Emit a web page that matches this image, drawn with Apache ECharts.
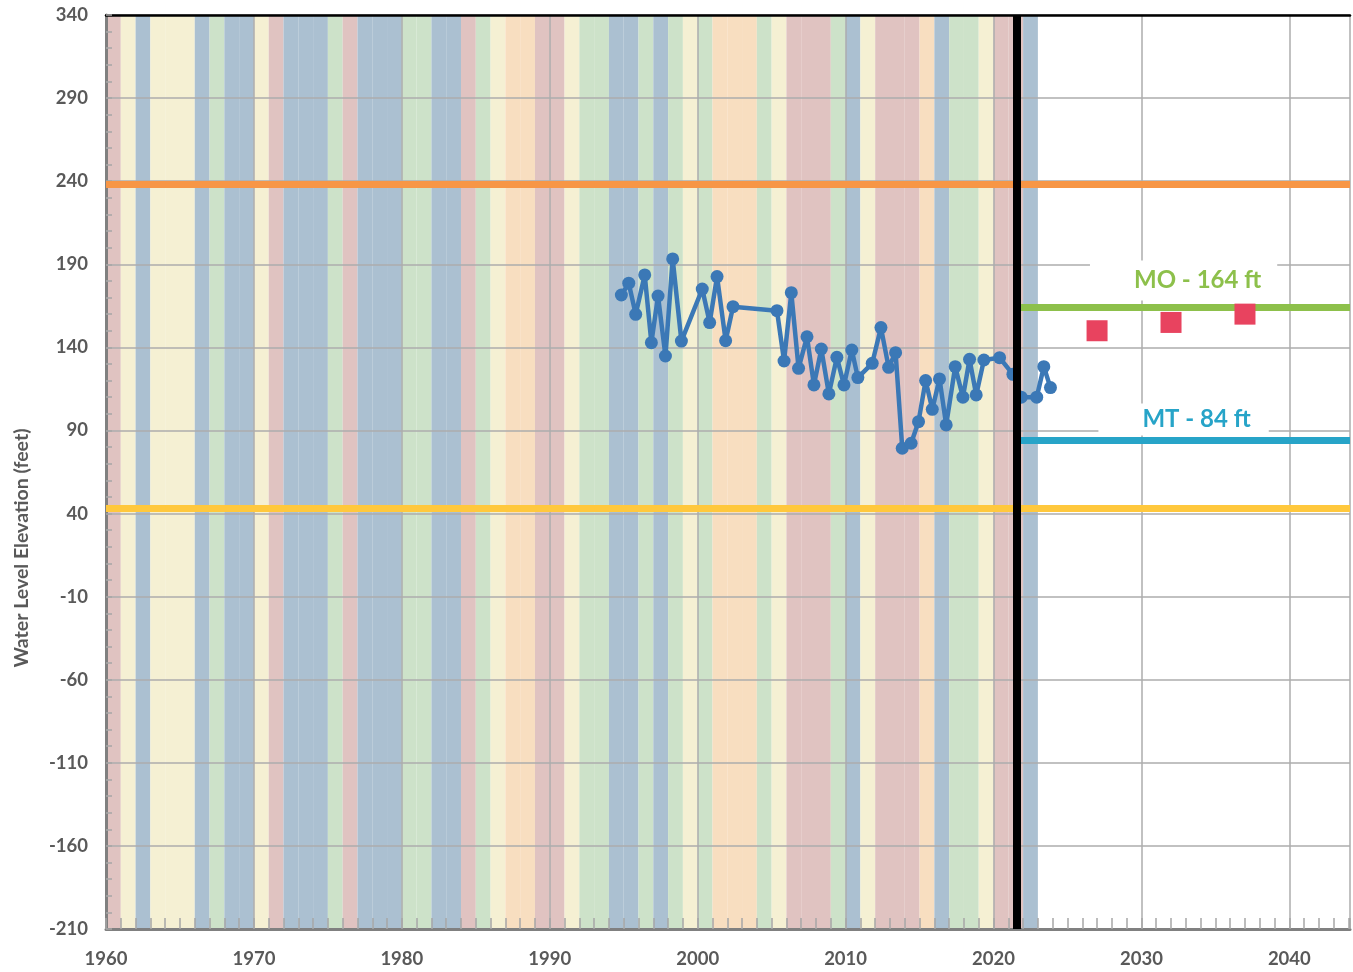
<!DOCTYPE html>
<html>
<head>
<meta charset="utf-8">
<title>Water Level Elevation</title>
<script src="https://cdn.jsdelivr.net/npm/echarts@6/dist/echarts.min.js"></script>
<style>
  html, body { margin: 0; padding: 0; background: #ffffff; overflow: hidden; }
  #chart { width: 1353px; height: 972px; }
</style>
</head>
<body>
<div id="chart"></div>
<script>
// Water-year classification (year ending) used for the background bands
const waterYears = [
  1961, 1962, 1963, 1964, 1965, 1966, 1967, 1968, 1969, 1970,
  1971, 1972, 1973, 1974, 1975, 1976, 1977, 1978, 1979, 1980,
  1981, 1982, 1983, 1984, 1985, 1986, 1987, 1988, 1989, 1990,
  1991, 1992, 1993, 1994, 1995, 1996, 1997, 1998, 1999, 2000,
  2001, 2002, 2003, 2004, 2005, 2006, 2007, 2008, 2009, 2010,
  2011, 2012, 2013, 2014, 2015, 2016, 2017, 2018, 2019, 2020,
  2021, 2022, 2023
];
const yearTypes = [
  'C',  'BN', 'W',  'BN', 'BN', 'BN', 'W',  'AN', 'W',  'W',
  'BN', 'C',  'W',  'W',  'W',  'AN', 'C',  'W',  'W',  'W',
  'AN', 'AN', 'W',  'W',  'C',  'AN', 'BN', 'D',  'D',  'C',
  'C',  'BN', 'AN', 'AN', 'W',  'W',  'AN', 'W',  'AN', 'BN',
  'AN', 'D',  'D',  'D',  'AN', 'BN', 'C',  'C',  'C',  'AN',
  'W',  'BN', 'C',  'C',  'C',  'D',  'W',  'AN', 'AN', 'BN',
  'C',  'C',  'W'
];

// Measured groundwater levels (decimal year, feet)
const measDates = [
  1994.84, 1995.34, 1995.81, 1996.42, 1996.87, 1997.32, 1997.82, 1998.31, 1998.90,
  2000.31, 2000.81, 2001.31, 2001.89, 2002.39,
  2005.36, 2005.84, 2006.33, 2006.82, 2007.39, 2007.86, 2008.36, 2008.87, 2009.41,
  2009.89, 2010.42, 2010.83, 2011.80, 2012.39, 2012.91, 2013.38, 2013.83, 2014.43,
  2014.93, 2015.41, 2015.86, 2016.35, 2016.80, 2017.41, 2017.93, 2018.38, 2018.83,
  2019.35, 2020.41, 2021.31, 2021.87, 2022.92, 2023.40, 2023.85
];
const measLevels = [
  171.5, 178.6, 159.9, 183.6, 142.8, 170.9, 134.8, 193.2, 143.8,
  175.1, 154.9, 182.6, 144.0, 164.5,
  162.1, 131.8, 172.9, 127.4, 146.4, 117.4, 139.0, 112.0, 134.0,
  117.4, 138.4, 121.8, 130.4, 151.9, 128.0, 136.8, 79.3, 82.3,
  95.3, 120.0, 102.7, 121.0, 93.3, 128.4, 110.0, 132.8, 111.4,
  132.4, 133.8, 123.8, 110.0, 110.0, 128.4, 115.8
];

// Interim milestones
const milestoneYears = [2027, 2032, 2037];
const milestoneLevels = [150, 155, 160];

// Reference levels (feet)
const upperRefLevel = 238;
const lowerRefLevel = 43;
const moLevel = 164;
const mtLevel = 84;
const divideYear = 2021.6;

// Axis tick labels
const xTickLabels = [1960, 1970, 1980, 1990, 2000, 2010, 2020, 2030, 2040];
const yTickLabels = [-210, -160, -110, -60, -10, 40, 90, 140, 190, 240, 290, 340];
const xAxisEnd = 2044.1;

// ---------------------------------------------------------------------------
const X_MIN = xTickLabels[0];
const X_STEP = xTickLabels[1] - xTickLabels[0];
const Y_MIN = yTickLabels[0];
const Y_MAX = yTickLabels[yTickLabels.length - 1];
const Y_STEP = yTickLabels[1] - yTickLabels[0];
// the y scale is shifted so that ticks start at zero on the axis
const toAxis = v => v - Y_MIN;

const FONT = 'Lato, "Open Sans", "Noto Sans", sans-serif';
const TXT = '#595959';
const GRID_GRAY = '#ADADAD';
const TICK_GRAY = '#A6A6A6';

const typeColors = {
  W: '#ABC0D1',
  AN: '#CDE2C9',
  BN: '#F5F0D3',
  D: '#F8DEC0',
  C: '#E0C3C1'
};

const bandAreas = waterYears.map((y, i) => [
  { xAxis: y - 1, itemStyle: { color: typeColors[yearTypes[i]], opacity: 1 } },
  { xAxis: y }
]);

const chart = echarts.init(document.getElementById('chart'), null, { renderer: 'canvas' });

const option = {
  animation: false,
  backgroundColor: '#ffffff',
  grid: { left: 106, right: 0, top: 15, bottom: 43, containLabel: false },
  xAxis: [
    {
      type: 'value', min: X_MIN, max: xAxisEnd, interval: X_STEP, z: 2,
      axisLine: { show: true, onZero: false, lineStyle: { color: '#808080', width: 3 } },
      axisTick: { show: false },
      axisLabel: {
        margin: 21, color: TXT, fontSize: 18.5, fontWeight: 'bold', fontFamily: FONT,
        formatter: v => (xTickLabels.indexOf(v) >= 0 ? String(v) : '')
      },
      splitLine: { show: true, lineStyle: { color: GRID_GRAY, width: 1.5 } }
    },
    {
      // yearly tick marks along the bottom
      type: 'value', min: X_MIN, max: xAxisEnd, interval: 1, position: 'bottom', z: 2,
      axisLine: { show: false },
      axisTick: { show: true, inside: true, length: 11, lineStyle: { color: TICK_GRAY, width: 1.5 } },
      axisLabel: { show: false },
      splitLine: { show: false }
    },
    {
      // top border of the plot
      type: 'value', min: X_MIN, max: xAxisEnd, position: 'top', z: 2,
      axisLine: { show: true, onZero: false, lineStyle: { color: '#000000', width: 2.5 } },
      axisTick: { show: false },
      axisLabel: { show: false },
      splitLine: { show: false }
    }
  ],
  yAxis: {
    type: 'value', min: 0, max: toAxis(Y_MAX), interval: Y_STEP, z: 2,
    axisLine: { show: true, onZero: false, lineStyle: { color: '#808080', width: 3 } },
    axisTick: { show: true, inside: true, length: 6, lineStyle: { color: TICK_GRAY, width: 1.5 } },
    minorTick: { show: true, splitNumber: 5, length: 6, lineStyle: { color: TICK_GRAY, width: 1.5 } },
    axisLabel: {
      margin: 18, color: TXT, fontSize: 18.5, fontWeight: 'bold', fontFamily: FONT,
      formatter: v => String(Math.round(v + Y_MIN))
    },
    splitLine: { show: true, lineStyle: { color: GRID_GRAY, width: 1.5 } }
  },
  graphic: [
    {
      type: 'text', x: 22, y: 548, rotation: Math.PI / 2, silent: true,
      style: {
        text: 'Water Level Elevation (feet)',
        fill: TXT, font: 'bold 19.5px ' + FONT,
        textAlign: 'center', textVerticalAlign: 'middle'
      }
    }
  ],
  series: [
    {
      // water-year type bands
      name: 'bands', type: 'line', data: [], z: 0, silent: true,
      markArea: { silent: true, z: 0, data: bandAreas }
    },
    {
      // full-width reference levels
      name: 'refs', type: 'line', data: [], silent: true,
      markLine: {
        silent: true, symbol: 'none', z: 3, label: { show: false },
        data: [
          { yAxis: toAxis(upperRefLevel), lineStyle: { color: '#F79646', width: 7, type: 'solid' } },
          { yAxis: toAxis(lowerRefLevel), lineStyle: { color: '#FFC83D', width: 7, type: 'solid' } }
        ]
      }
    },
    {
      // MO / MT thresholds
      name: 'thresholds', type: 'line', data: [], silent: true,
      markLine: {
        silent: true, symbol: 'none', z: 4,
        data: [
          [
            {
              coord: [divideYear, toAxis(moLevel)],
              lineStyle: { color: '#8DC04B', width: 7, type: 'solid' },
              label: {
                show: true, position: 'insideMiddleTop', distance: 7,
                formatter: 'MO - ' + moLevel + ' ft',
                color: '#8DC04B', fontSize: 24, fontWeight: 'bold', fontFamily: FONT,
                backgroundColor: '#ffffff', padding: [8, 16, 8, 44]
              }
            },
            { coord: [xAxisEnd, toAxis(moLevel)] }
          ],
          [
            {
              coord: [divideYear, toAxis(mtLevel)],
              lineStyle: { color: '#27A4C8', width: 7, type: 'solid' },
              label: {
                show: true, position: 'insideMiddleTop', distance: 5,
                formatter: 'MT - ' + mtLevel + ' ft',
                color: '#27A4C8', fontSize: 24, fontWeight: 'bold', fontFamily: FONT,
                backgroundColor: '#ffffff', padding: [4, 18, 4, 44]
              }
            },
            { coord: [xAxisEnd, toAxis(mtLevel)] }
          ]
        ]
      }
    },
    {
      name: 'Measured', type: 'line', z: 5,
      data: measDates.map((d, i) => [d, toAxis(measLevels[i])]),
      symbol: 'circle', symbolSize: 13, showSymbol: true,
      lineStyle: { color: '#3B78B6', width: 4.5 },
      itemStyle: { color: '#3B78B6', opacity: 1 }
    },
    {
      name: 'Interim Milestones', type: 'scatter', z: 5,
      data: milestoneYears.map((y, i) => [y, toAxis(milestoneLevels[i])]),
      symbol: 'rect', symbolSize: 21,
      itemStyle: { color: '#E8435F', opacity: 1 }
    },
    {
      // vertical divider
      name: 'divider', type: 'line', data: [], silent: true, z: 6,
      markLine: {
        silent: true, symbol: 'none', z: 8, label: { show: false },
        data: [{ xAxis: divideYear, lineStyle: { color: '#000000', width: 8, type: 'solid' } }]
      }
    }
  ]
};

chart.setOption(option);
</script>
</body>
</html>
